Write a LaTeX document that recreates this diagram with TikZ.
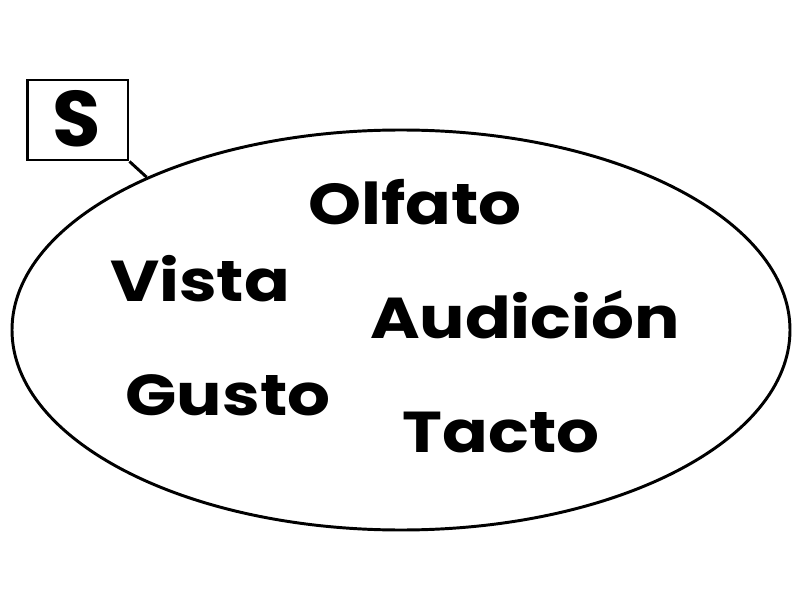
\documentclass[tikz,border=0pt]{standalone}
\usepackage{fontspec}
\setmainfont{Poppins}[BoldFont={* Bold}]
\usepackage{graphicx}
\usepackage{tikz}
\usetikzlibrary{shapes.geometric}

\newcommand{\wide}[1]{\scalebox{1.17}[1]{#1}}

\begin{document}
\begin{tikzpicture}[
    sense/.style={anchor=base, inner sep=0pt, font=\bfseries\fontsize{41}{48}\selectfont},
    setline/.style={line width=2.1pt}
  ]

  \useasboundingbox (0, 0) rectangle (20, 15);

  \node[setline, draw, ellipse, minimum width=19.45cm, minimum height=10cm] (set) at (10.025, 6.75) {};

  \node[setline, draw, minimum width=2.52cm, minimum height=2cm] (sbox) at (1.94, 12) {};
  \node[anchor=base, inner sep=0pt, font=\bfseries\fontsize{56}{64}\selectfont] (slabel) at (1.93, 11.33) {S};
  \draw[setline] (sbox.south east) -- (set.149);

  \node[sense] (olfato) at (10.375, 9.375) {\wide{Olfato}};
  \node[sense] (vista) at (5.0, 7.45) {\wide{Vista}};
  \node[sense] (audicion) at (13.125, 6.55) {\wide{Audición}};
  \node[sense] (gusto) at (5.7, 4.62) {\wide{Gusto}};
  \node[sense] (tacto) at (12.525, 3.7) {\wide{Tacto}};

\end{tikzpicture}
\end{document}
